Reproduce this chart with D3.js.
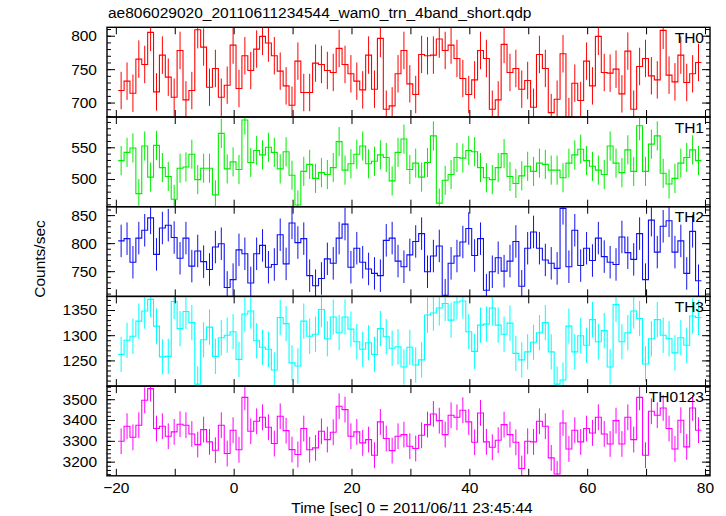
<!DOCTYPE html>
<html><head><meta charset="utf-8">
<script src="https://cdn.jsdelivr.net/npm/d3@7"></script>
<style>
body{margin:0;background:#fff}
svg{display:block}
text{font-family:"Liberation Sans",Arial,Helvetica,sans-serif;fill:#000}
</style>
</head><body>
<svg id="chart" width="726" height="516"></svg>
<script>
// ---------------- data ----------------
const titleText = "ae806029020_20110611234544_wam0_trn_4band_short.qdp";
const xLabelText = "Time [sec] 0 = 2011/06/11 23:45:44";
const yLabelText = "Counts/sec";
const panelNames = ["TH0", "TH1", "TH2", "TH3", "TH0123"];
const binStart = -19.6;   // start time of first 1 s bin
const binWidth = 1.0;

const th0 = [718,732,714,765,757,805,716,771,738,708,778,704,718,809,783,723,751,708,726,786,
721,770,748,780,799,789,770,747,725,696,762,715,715,759,757,748,745,781,757,743,
732,719,771,720,796,690,695,743,778,728,712,772,770,771,795,778,786,766,736,712,
734,778,766,690,704,787,745,751,720,733,693,772,751,685,705,773,679,729,703,762,
725,799,745,744,750,713,777,690,754,766,740,734,808,741,731,771,730,743,760];

const th1 = [529,542,549,477,552,503,553,518,504,468,517,519,539,499,517,517,475,572,516,527,
515,593,526,545,538,550,542,516,543,506,459,512,523,501,510,507,518,559,514,524,
539,552,524,528,538,534,497,542,563,515,525,503,526,568,462,498,507,534,533,545,
543,518,502,499,518,540,504,493,505,520,512,525,523,514,514,502,525,538,547,529,
520,514,507,552,525,510,546,512,584,512,555,568,509,492,501,525,534,546,529];

const th2 = [804,808,766,809,823,845,780,827,832,810,773,809,759,786,767,753,793,799,721,735,
788,781,729,781,796,757,762,815,763,836,801,808,742,724,737,772,764,809,834,757,
791,766,754,746,742,805,809,768,758,779,803,817,749,777,795,707,764,777,802,826,
778,808,716,749,774,750,768,803,723,791,820,791,770,764,755,862,758,823,760,791,
769,809,776,766,762,811,783,771,817,735,841,784,830,840,784,804,746,821,733];

const th3 = [1262,1290,1298,1328,1348,1371,1318,1257,1258,1367,1313,1347,1325,1203,1291,1316,1258,1295,1300,1307,
1252,1342,1348,1289,1276,1272,1231,1335,1323,1245,1239,1328,1298,1302,1351,1293,1336,1305,1336,1312,
1287,1272,1285,1262,1313,1297,1274,1277,1237,1276,1241,1251,1340,1344,1354,1363,1330,1366,1368,1307,
1268,1320,1322,1354,1320,1302,1324,1264,1251,1267,1286,1305,1325,1267,1203,1211,1318,1267,1299,1280,
1331,1287,1309,1237,1361,1287,1305,1348,1333,1243,1293,1331,1300,1293,1265,1295,1280,1338,1335];

const th0123 = [3298,3370,3317,3375,3495,3551,3359,3370,3322,3343,3380,3375,3333,3282,3354,3295,3255,3375,3239,3351,
3257,3509,3346,3394,3413,3365,3287,3418,3349,3258,3234,3359,3257,3266,3346,3306,3341,3466,3450,3322,
3343,3290,3306,3231,3391,3311,3253,3322,3330,3274,3263,3327,3378,3429,3397,3330,3423,3413,3447,3391,
3293,3434,3295,3269,3303,3378,3330,3293,3167,3298,3295,3394,3370,3218,3141,3386,3261,3351,3295,3359,
3338,3413,3333,3285,3397,3285,3413,3306,3509,3231,3442,3423,3458,3359,3261,3399,3271,3458,3351];

const seriesValues = [th0, th1, th2, th3, th0123];
const seriesErrors = [28, 23, 29, 35, 62];   // typical 1-sigma error per panel

const yTickLabels = [[700, 750, 800], [500, 550], [750, 800, 850], [1250, 1300, 1350], [3200, 3300, 3400, 3500]];
const yMinorStep = [10, 10, 10, 10, 20];
const xTickLabels = [-20, 0, 20, 40, 60, 80];
const xMajorTicks = [-20, -10, 0, 10, 20, 30, 40, 50, 60, 70, 80];

// ---------------- layout / style ----------------
const colors = ["#ff0000", "#00ee00", "#1010ee", "#00ffff", "#ff00ff"];
const yDomains = [[678.4, 812.6], [456.3, 597.8], [705, 865], [1199, 1377], [3132, 3563]];
const frameLeft = 107, frameRight = 710;
const panelTop0 = 27.3, panelH = 89.7;
const fontSize = 15.5;

const svg = d3.select("#chart");
svg.append("rect").attr("width", 726).attr("height", 516).attr("fill", "#fff");

const x = d3.scaleLinear().domain([-21.5, 80.85]).range([frameLeft, frameRight]);

seriesValues.forEach((vals, p) => {
  const top = panelTop0 + p * panelH, bot = top + panelH;
  const y = d3.scaleLinear().domain(yDomains[p]).range([bot, top]);
  const g = svg.append("g");
  const clipId = "clip" + p;
  svg.append("clipPath").attr("id", clipId).append("rect")
    .attr("x", frameLeft).attr("y", top).attr("width", frameRight - frameLeft).attr("height", panelH);

  const data = vals.map((v, i) => ({t0: binStart + i * binWidth, tc: binStart + (i + 0.5) * binWidth, v: v, e: seriesErrors[p]}));
  const plot = g.append("g").attr("clip-path", `url(#${clipId})`);

  // error bars
  plot.selectAll("line.err").data(data).enter().append("line")
    .attr("x1", d => x(d.tc)).attr("x2", d => x(d.tc))
    .attr("y1", d => y(d.v - d.e)).attr("y2", d => y(d.v + d.e))
    .attr("stroke", colors[p]).attr("stroke-width", 1);

  // step line
  const pts = data.map(d => [d.t0, d.v]);
  pts.push([binStart + vals.length * binWidth, vals[vals.length - 1]]);
  const line = d3.line().x(d => x(d[0])).y(d => y(d[1])).curve(d3.curveStepAfter);
  plot.append("path").attr("d", line(pts)).attr("fill", "none")
    .attr("stroke", colors[p]).attr("stroke-width", 1.1);

  // y ticks (inward on both sides)
  const [d0, d1] = yDomains[p];
  const minorVals = d3.range(Math.ceil(d0 / yMinorStep[p]) * yMinorStep[p], d1, yMinorStep[p]);
  const addAxis = (axis, tx) => {
    const a = g.append("g").attr("transform", `translate(${tx},0)`).call(axis);
    a.select(".domain").remove();
    a.selectAll("line").attr("stroke", "#000").attr("stroke-width", 1);
    return a;
  };
  addAxis(d3.axisRight(y).tickValues(minorVals).tickSize(4).tickFormat(""), frameLeft);
  addAxis(d3.axisRight(y).tickValues(yTickLabels[p]).tickSize(8).tickFormat(""), frameLeft);
  addAxis(d3.axisLeft(y).tickValues(minorVals).tickSize(4).tickFormat(""), frameRight);
  addAxis(d3.axisLeft(y).tickValues(yTickLabels[p]).tickSize(8).tickFormat(""), frameRight);
  // y labels
  const yl = g.append("g").attr("transform", `translate(${frameLeft},0)`)
    .call(d3.axisLeft(y).tickValues(yTickLabels[p]).tickSize(0).tickPadding(10).tickFormat(d3.format("d")));
  yl.select(".domain").remove();
  yl.selectAll("text").attr("font-size", fontSize).attr("font-family", '"Liberation Sans",Arial,sans-serif').attr("fill", "#000");

  // x ticks (inward at top and bottom)
  const xt = g.append("g").attr("transform", `translate(0,${top})`)
    .call(d3.axisBottom(x).tickValues(xMajorTicks).tickSize(7).tickFormat(""));
  xt.select(".domain").remove(); xt.selectAll("line").attr("stroke", "#000");
  const xb = g.append("g").attr("transform", `translate(0,${bot})`)
    .call(d3.axisTop(x).tickValues(xMajorTicks).tickSize(7).tickFormat(""));
  xb.select(".domain").remove(); xb.selectAll("line").attr("stroke", "#000");

  // frame
  g.append("rect").attr("x", frameLeft).attr("y", top).attr("width", frameRight - frameLeft)
    .attr("height", panelH).attr("fill", "none").attr("stroke", "#000").attr("stroke-width", 1.4);

  // panel name
  g.append("text").attr("x", 704).attr("y", top + 15.5).attr("text-anchor", "end")
    .attr("font-size", fontSize).text(panelNames[p]);

  if (p === seriesValues.length - 1) {
    const xl = g.append("g").attr("transform", `translate(0,${bot})`)
      .call(d3.axisBottom(x).tickValues(xTickLabels).tickSize(0).tickPadding(6)
        .tickFormat(d => d < 0 ? "\u2212" + Math.abs(d) : d));
    xl.select(".domain").remove();
    xl.selectAll("text").attr("font-size", fontSize).attr("font-family", '"Liberation Sans",Arial,sans-serif').attr("fill", "#000");
  }
});

svg.append("text").attr("x", 108).attr("y", 18).attr("font-size", fontSize).text(titleText);
svg.append("text").attr("x", 412).attr("y", 513).attr("text-anchor", "middle")
  .attr("font-size", fontSize).text(xLabelText);
svg.append("text").attr("transform", "translate(45,259) rotate(-90)").attr("text-anchor", "middle")
  .attr("font-size", fontSize).text(yLabelText);
</script>
</body></html>
